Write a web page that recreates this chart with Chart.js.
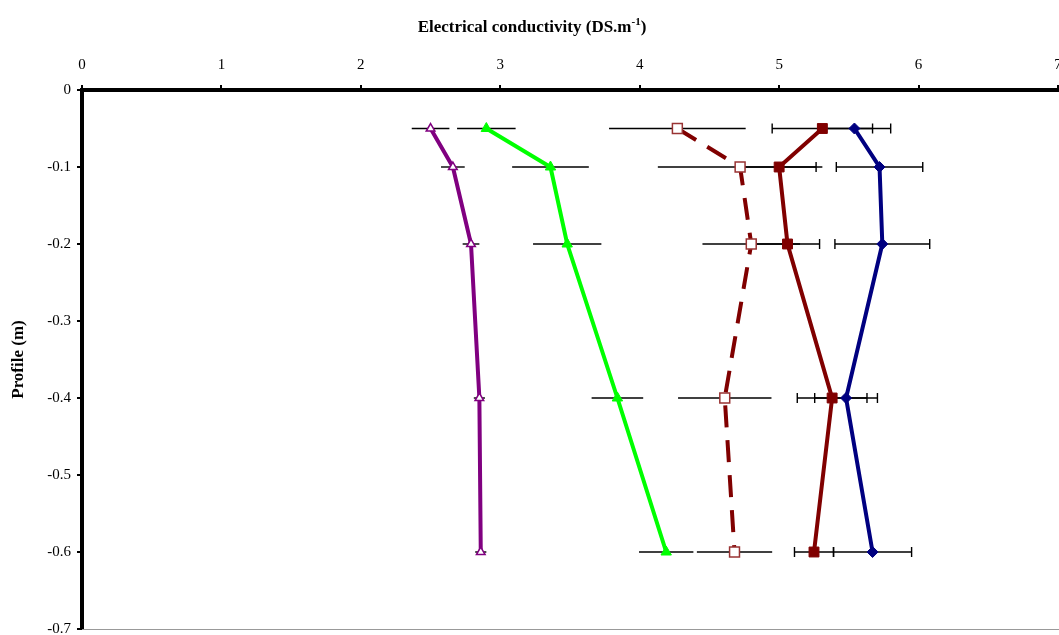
<!DOCTYPE html>
<html>
<head>
<meta charset="utf-8">
<script src="https://cdn.jsdelivr.net/npm/chart.js@4.4.0/dist/chart.umd.min.js"></script>
<style>
  html, body { margin: 0; padding: 0; background: #fff; overflow: hidden; }
  #wrap { width: 1059px; height: 635px; }
</style>
</head>
<body>
<div id="wrap"><canvas id="ecChart"></canvas></div>
<script>
// depth of each sample (m)
const depths = [-0.05, -0.1, -0.2, -0.4, -0.6];

// electrical conductivity per series
const purpleVals = [2.50, 2.66, 2.79, 2.85, 2.86];
const purpleErr  = [0.135, 0.085, 0.06, 0.04, 0.04];

const greenVals = [2.90, 3.36, 3.48, 3.84, 4.19];
const greenErr  = [0.21, 0.275, 0.245, 0.185, 0.195];

const openSqVals = [4.27, 4.72, 4.80, 4.61, 4.68];
const openSqErr  = [0.49, 0.59, 0.35, 0.335, 0.27];

const redVals = [5.31, 5.00, 5.06, 5.38, 5.25];
const redErr  = [0.36, 0.265, 0.23, 0.25, 0.14];

const blueVals = [5.54, 5.72, 5.74, 5.48, 5.67];
const blueErr  = [0.26, 0.31, 0.34, 0.225, 0.28];

const xTicks = [0, 1, 2, 3, 4, 5, 6, 7];
const yTicks = [0, -0.1, -0.2, -0.3, -0.4, -0.5, -0.6, -0.7];

const serif = "'Liberation Serif', 'Times New Roman', serif";

function toPoints(vals) {
    return vals.map((v, i) => ({ x: v, y: depths[i] }));
}

// horizontal error bars, drawn under the lines
const errorBarPlugin = {
    id: 'errorBars',
    beforeDatasetsDraw(chart) {
        const ctx = chart.ctx;
        const xs = chart.scales.x;
        const ys = chart.scales.y;
        ctx.save();
        ctx.strokeStyle = '#000';
        ctx.lineWidth = 1.4;
        chart.data.datasets.forEach(ds => {
            if (!ds.errs) return;
            ds.data.forEach((p, i) => {
                const e = ds.errs[i];
                const x1 = xs.getPixelForValue(p.x - e);
                const x2 = xs.getPixelForValue(p.x + e);
                const y = ys.getPixelForValue(p.y);
                ctx.beginPath();
                ctx.moveTo(x1, y);
                ctx.lineTo(x2, y);
                if (ds.errCap) {
                    ctx.moveTo(x1, y - 5);
                    ctx.lineTo(x1, y + 5);
                    ctx.moveTo(x2, y - 5);
                    ctx.lineTo(x2, y + 5);
                }
                ctx.stroke();
            });
        });
        ctx.restore();
    },
    afterDraw(chart) {
        const ctx = chart.ctx;
        const area = chart.chartArea;
        ctx.save();
        // thin bottom frame line
        ctx.strokeStyle = '#999';
        ctx.lineWidth = 1;
        ctx.beginPath();
        ctx.moveTo(area.left, area.bottom + 0.5);
        ctx.lineTo(area.right + 2, area.bottom + 0.5);
        ctx.stroke();

        // axis title with superscript
        const main = 'Electrical conductivity (DS.m';
        const sup = '-1';
        const close = ')';
        ctx.fillStyle = '#000';
        ctx.textBaseline = 'alphabetic';
        ctx.font = 'bold 17px ' + serif;
        const w1 = ctx.measureText(main).width;
        const w3 = ctx.measureText(close).width;
        ctx.font = 'bold 11px ' + serif;
        const w2 = ctx.measureText(sup).width;
        let x = 532 - (w1 + w2 + w3) / 2;
        const base = 32;
        ctx.font = 'bold 17px ' + serif;
        ctx.fillText(main, x, base);
        x += w1;
        ctx.font = 'bold 11px ' + serif;
        ctx.fillText(sup, x, base - 7);
        x += w2;
        ctx.font = 'bold 17px ' + serif;
        ctx.fillText(close, x, base);
        ctx.restore();
    }
};

function generateChart() {
    const ctx = document.getElementById('ecChart').getContext('2d');

    new Chart(ctx, {
        type: 'line',
        data: {
            datasets: [
                {
                    label: 'purple',
                    data: toPoints(purpleVals),
                    errs: purpleErr,
                    errCap: false,
                    borderColor: '#800080',
                    borderWidth: 4,
                    pointStyle: 'triangle',
                    pointRadius: 5,
                    pointBackgroundColor: '#fff',
                    pointBorderColor: '#800080',
                    pointBorderWidth: 1.5
                },
                {
                    label: 'green',
                    data: toPoints(greenVals),
                    errs: greenErr,
                    errCap: false,
                    borderColor: '#00ff00',
                    borderWidth: 4,
                    pointStyle: 'triangle',
                    pointRadius: 6,
                    pointBackgroundColor: '#00ff00',
                    pointBorderColor: '#00ff00',
                    pointBorderWidth: 1
                },
                {
                    label: 'open square',
                    data: toPoints(openSqVals),
                    errs: openSqErr,
                    errCap: false,
                    borderColor: '#800000',
                    borderWidth: 4,
                    borderDash: [22, 13],
                    pointStyle: 'rect',
                    pointRadius: 7,
                    pointBackgroundColor: '#fff',
                    pointBorderColor: '#993333',
                    pointBorderWidth: 1.5
                },
                {
                    label: 'red square',
                    data: toPoints(redVals),
                    errs: redErr,
                    errCap: true,
                    borderColor: '#800000',
                    borderWidth: 4,
                    pointStyle: 'rect',
                    pointRadius: 7,
                    pointBackgroundColor: '#800000',
                    pointBorderColor: '#800000',
                    pointBorderWidth: 1
                },
                {
                    label: 'blue diamond',
                    data: toPoints(blueVals),
                    errs: blueErr,
                    errCap: true,
                    borderColor: '#000080',
                    borderWidth: 4,
                    pointStyle: 'rectRot',
                    pointRadius: 5.5,
                    pointBackgroundColor: '#000080',
                    pointBorderColor: '#000080',
                    pointBorderWidth: 1
                }
            ]
        },
        options: {
            responsive: true,
            maintainAspectRatio: false,
            animation: false,
            layout: { autoPadding: false, padding: { left: 0, top: 0, right: 1, bottom: 6 } },
            plugins: {
                legend: { display: false },
                tooltip: { enabled: false }
            },
            scales: {
                x: {
                    type: 'linear',
                    position: 'top',
                    min: xTicks[0],
                    max: xTicks[xTicks.length - 1],
                    afterBuildTicks: s => { s.ticks = xTicks.map(v => ({ value: v })); },
                    afterFit: s => { s.height = 90; s.paddingLeft = 0; s.paddingRight = 0; },
                    border: { color: '#000', width: 4 },
                    grid: { drawOnChartArea: false, drawTicks: true, tickLength: 5, color: '#000', lineWidth: 2 },
                    ticks: {
                        color: '#000',
                        padding: 11,
                        maxRotation: 0,
                        font: { family: serif, size: 15 }
                    }
                },
                y: {
                    type: 'linear',
                    min: -0.7,
                    max: 0,
                    afterBuildTicks: s => { s.ticks = yTicks.map(v => ({ value: v })); },
                    afterFit: s => { s.width = 82; s.paddingTop = 0; s.paddingBottom = 0; },
                    border: { color: '#000', width: 4 },
                    grid: { drawOnChartArea: false, drawTicks: true, tickLength: 5, color: '#000', lineWidth: 2 },
                    ticks: {
                        color: '#000',
                        padding: 6,
                        font: { family: serif, size: 15 },
                        callback: v => (v === 0 ? '0' : v.toFixed(1))
                    },
                    title: {
                        display: true,
                        text: 'Profile (m)',
                        color: '#000',
                        padding: { top: 8, bottom: 0 },
                        font: { family: serif, size: 17, weight: 'bold' }
                    }
                }
            }
        },
        plugins: [errorBarPlugin]
    });
}

document.addEventListener('DOMContentLoaded', generateChart);
</script>
</body>
</html>
